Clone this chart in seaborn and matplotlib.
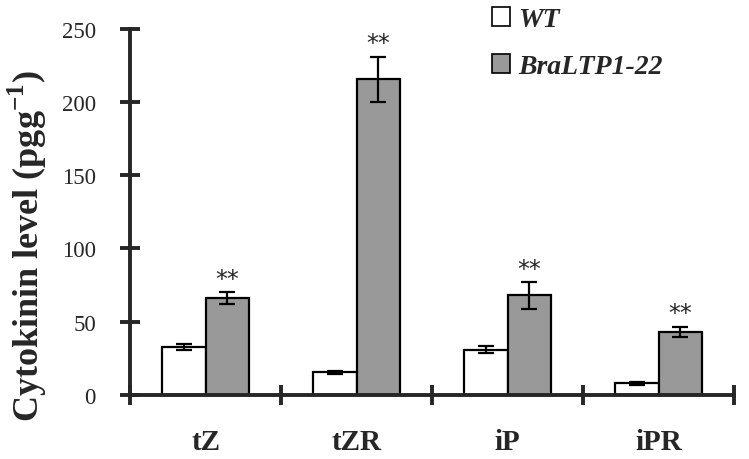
import numpy as np
import pandas as pd
import matplotlib
matplotlib.use("Agg")
import matplotlib.pyplot as plt
from matplotlib.patches import Patch
import seaborn as sns

categories = ["tZ", "tZR", "iP", "iPR"]
groups = ["WT", "BraLTP1-22"]
wt_values = [32.5, 15.5, 30.8, 8.0]
wt_errors = [2.0, 1.2, 2.4, 1.0]
bra_values = [66.0, 215.5, 68.0, 43.0]
bra_errors = [4.0, 15.4, 9.0, 3.5]
significance = ["**", "**", "**", "**"]
yticks = [0, 50, 100, 150, 200, 250]

sns.set_style("ticks")
plt.rcParams["font.family"] = ["Liberation Serif", "DejaVu Serif"]
plt.rcParams["mathtext.fontset"] = "custom"
plt.rcParams["mathtext.rm"] = "Liberation Serif"
plt.rcParams["mathtext.bf"] = "Liberation Serif:bold"

df = pd.DataFrame({
    "category": categories * 2,
    "group": [groups[0]] * 4 + [groups[1]] * 4,
    "value": wt_values + bra_values,
    "err": wt_errors + bra_errors,
})

fig = plt.figure(figsize=(7.49, 4.60), dpi=100)
ax = fig.add_axes([130 / 749, 1 - 396 / 460, (734 - 130) / 749, (396 - 29.5) / 460])

colors = ["white", "#999999"]
sns.barplot(data=df, x="category", y="value", hue="group", order=categories,
            hue_order=groups, palette=colors, width=0.576, edgecolor="black",
            linewidth=1.6, errorbar=None, legend=False, ax=ax, saturation=1)

bars = [p for p in ax.patches if p.get_width() > 0]
lookup = {}
for p in bars:
    lookup[(round(p.get_x() + p.get_width() / 2, 3))] = p
centers = sorted(lookup.keys())
for i, cat in enumerate(categories):
    xw = centers[2 * i]
    xb = centers[2 * i + 1]
    ax.errorbar(xw, wt_values[i], yerr=wt_errors[i], fmt="none", ecolor="black",
                elinewidth=1.6, capsize=5.8, capthick=1.6, zorder=5)
    ax.errorbar(xb, bra_values[i], yerr=bra_errors[i], fmt="none", ecolor="black",
                elinewidth=1.6, capsize=5.8, capthick=1.6, zorder=5)
    ax.annotate(significance[i], xy=(xb, bra_values[i] + bra_errors[i]),
                xytext=(0, 1), textcoords="offset points", ha="center",
                va="bottom", fontsize=17, family="DejaVu Sans", annotation_clip=False)

ax.set_xlim(-0.5, 3.5)
ax.set_ylim(0, 250)
ax.set_yticks(yticks)
ax.set_yticklabels([str(t) for t in yticks], fontsize=16.5)
ax.set_xticks(range(len(categories)))
ax.set_xticklabels(categories, fontsize=21, fontweight="bold")
ax.set_xticks(np.arange(-0.5, 3.6, 1.0), minor=True)
ax.tick_params(axis="x", which="major", length=0, pad=24)
ax.tick_params(axis="x", which="minor", direction="inout", length=15, width=2.8)
ax.tick_params(axis="y", direction="inout", length=15, width=2.8, pad=17)
ax.set_xlabel("")
ax.set_ylabel("Cytokinin level (pgg$^{\\mathbf{-1}}$)", fontsize=26, fontweight="bold")
ax.yaxis.set_label_coords(-0.134, 0.41)

for s in ["top", "right"]:
    ax.spines[s].set_visible(False)
for s in ["left", "bottom"]:
    ax.spines[s].set_linewidth(2.8)

handles = [Patch(facecolor=colors[0], edgecolor="black", linewidth=1.2),
           Patch(facecolor=colors[1], edgecolor="black", linewidth=1.2)]
leg = fig.legend(handles, groups, loc="upper left", bbox_to_anchor=(492 / 749, 1 - 8 / 460),
                 frameon=False, prop={"family": "Liberation Serif", "weight": "bold",
                                      "style": "italic", "size": 20},
                 handlelength=0.65, handleheight=0.65, handletextpad=0.3,
                 labelspacing=0.8, borderpad=0, borderaxespad=0)

fig.savefig("out.png", dpi=100)
